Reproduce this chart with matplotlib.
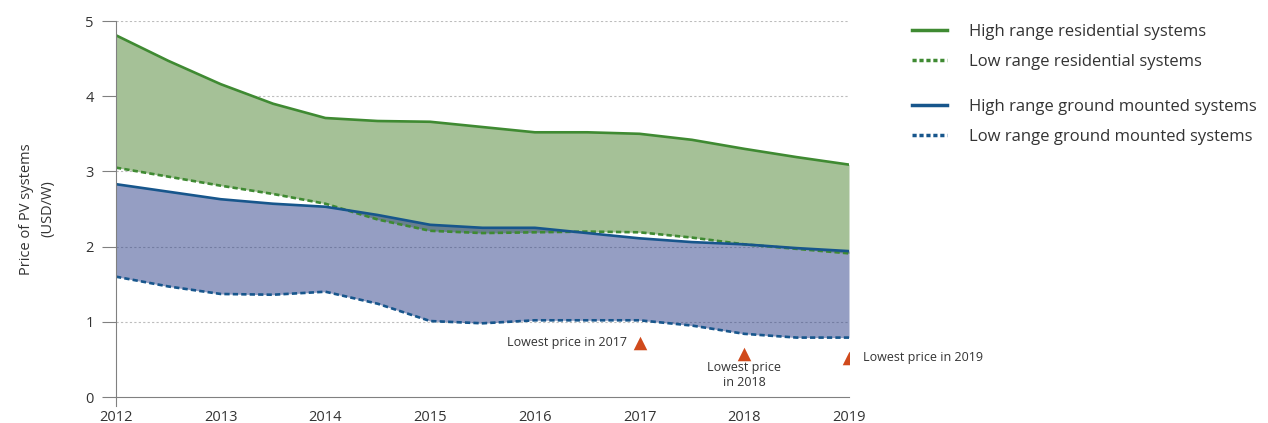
import matplotlib
matplotlib.use("Agg")
import matplotlib.pyplot as plt
from matplotlib.lines import Line2D

plt.rcParams["font.family"] = ["Open Sans", "DejaVu Sans"]

# ===== DATA (USD/W, read every half year) =====
years = [2012, 2012.5, 2013, 2013.5, 2014, 2014.5, 2015, 2015.5,
         2016, 2016.5, 2017, 2017.5, 2018, 2018.5, 2019]
res_high = [4.81, 4.47, 4.16, 3.90, 3.71, 3.67, 3.66, 3.59,
            3.52, 3.52, 3.50, 3.42, 3.30, 3.19, 3.09]
res_low = [3.05, 2.93, 2.81, 2.70, 2.57, 2.36, 2.21, 2.18,
           2.19, 2.20, 2.19, 2.12, 2.03, 1.97, 1.91]
gm_high = [2.83, 2.73, 2.63, 2.57, 2.53, 2.42, 2.29, 2.25,
           2.25, 2.18, 2.11, 2.06, 2.03, 1.98, 1.94]
gm_low = [1.60, 1.47, 1.37, 1.36, 1.40, 1.24, 1.01, 0.98,
          1.02, 1.02, 1.02, 0.95, 0.84, 0.79, 0.79]

lowest_years = [2017, 2018, 2019]
lowest_vals = [0.72, 0.57, 0.52]

GREEN = "#3f8a32"
BLUE = "#17568c"
RED = "#d04a1c"
GRID = "#bdbdbd"
TXT = "#333333"

fig = plt.figure(figsize=(12.68, 4.23), dpi=100)
ax = fig.add_axes([116 / 1268, 26 / 423, (849 - 116) / 1268, (397 - 21) / 423])

ax.fill_between(years, res_low, res_high, color="#a5c197", lw=0)
ax.fill_between(years, gm_low, gm_high, color="#2c3f88", alpha=0.5, lw=0)

ax.plot(years, res_high, color=GREEN, lw=1.9, solid_joinstyle="round")
ax.plot(years, res_low, color=GREEN, lw=1.9, dashes=(2, 1.2))
ax.plot(years, gm_high, color=BLUE, lw=1.9, solid_joinstyle="round")
ax.plot(years, gm_low, color=BLUE, lw=1.9, dashes=(2, 1.2))

ax.scatter(lowest_years, lowest_vals, marker="^", s=95, color=RED, zorder=5, lw=0)
ax.text(lowest_years[0] - 0.12, lowest_vals[0], "Lowest price in 2017",
        ha="right", va="center", fontsize=9, color=TXT)
ax.text(lowest_years[1], lowest_vals[1] - 0.09, "Lowest price\nin 2018",
        ha="center", va="top", fontsize=9, color=TXT, linespacing=1.2)
ax.text(lowest_years[2] + 0.13, lowest_vals[2], "Lowest price in 2019",
        ha="left", va="center", fontsize=9, color=TXT)

ax.set_xlim(2012, 2019)
ax.set_ylim(0, 5)
ax.set_yticks([0, 1, 2, 3, 4, 5])
ax.set_xticks(range(2012, 2020))
for y in [1, 2, 3, 4, 5]:
    ax.axhline(y, color=GRID, lw=0.8, ls=(0, (2, 2)), zorder=0)

for s in ["top", "right"]:
    ax.spines[s].set_visible(False)
ax.spines["left"].set_color("#808080")
ax.spines["bottom"].set_color("#808080")
ax.plot([2012, 2012], [0, -0.12], color="#808080", lw=0.8, clip_on=False)
ax.tick_params(axis="y", length=10, color="#808080", labelsize=10.5, labelcolor=TXT, pad=6)
ax.tick_params(axis="x", length=0, labelsize=10.5, labelcolor=TXT, pad=9)
ax.set_ylabel("Price of PV systems\n(USD/W)", fontsize=10.5, color=TXT, linespacing=1.55)
ax.yaxis.set_label_coords(-0.083, 0.5)

res_handles = [Line2D([], [], color=GREEN, lw=2.5),
               Line2D([], [], color=GREEN, lw=2.5, dashes=(1.2, 0.8))]
gm_handles = [Line2D([], [], color=BLUE, lw=2.5),
              Line2D([], [], color=BLUE, lw=2.5, dashes=(1.2, 0.8))]
leg_kw = dict(frameon=False, fontsize=12, handlelength=2.1, handletextpad=1.3,
              labelspacing=0.85, labelcolor=TXT, loc="upper left")
fig.legend(res_handles, ["High range residential systems", "Low range residential systems"],
           bbox_to_anchor=(897 / 1268, 1 - 9 / 423), **leg_kw)
fig.legend(gm_handles, ["High range ground mounted systems", "Low range ground mounted systems"],
           bbox_to_anchor=(897 / 1268, 1 - 84 / 423), **leg_kw)

fig.savefig("out.png", dpi=100)
